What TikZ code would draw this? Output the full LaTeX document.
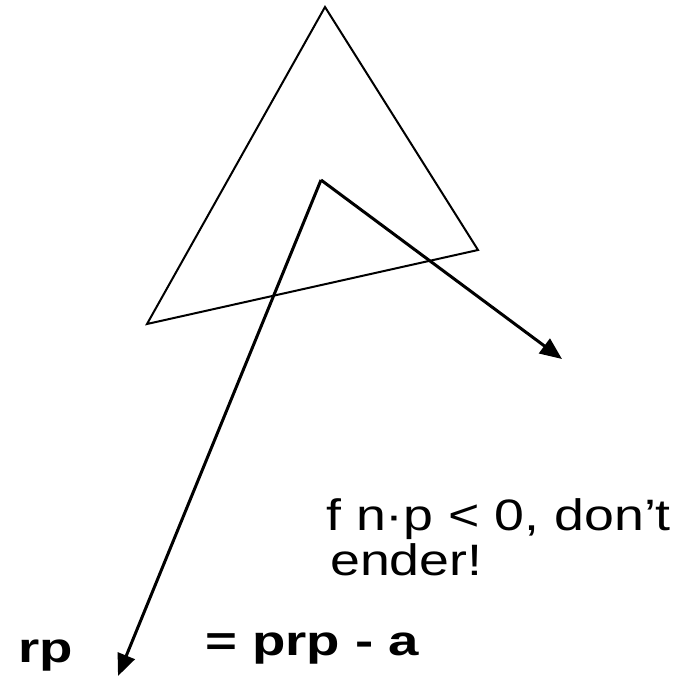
\documentclass[tikz,border=0pt]{standalone}
\usepackage{fontspec}
\setmainfont{Liberation Sans}
\usetikzlibrary{arrows.meta}
\tikzset{
  facet/.style={draw, line width=2pt, line join=miter},
  ray/.style={draw, line width=3pt, -{Triangle[length=22pt,width=18pt]}},
  note/.style={inner sep=0pt, anchor=base west, xscale=1.22, transform shape,
    font=\fontsize{44}{45}\selectfont},
  formula/.style={inner sep=0pt, anchor=base west, xscale=1.30, transform shape,
    font=\fontsize{42}{44}\selectfont\bfseries}
}
\begin{document}
\begin{tikzpicture}[x=1pt,y=-1pt]
\useasboundingbox (0,0) rectangle (684,679);
\path coordinate (apex) at (325,7)
coordinate (right) at (478,250)
coordinate (left) at (147,324)
coordinate (origin) at (321,180)
coordinate (normal) at (562,359)
coordinate (eye) at (118,676)
;
\draw[facet] (apex) -- (right) -- (left) -- cycle;
\draw[ray] (origin) -- (normal);
\draw[ray] (origin) -- (eye);
\path node[note] (warn) at (326,530) {f n·p < 0, don’t}
node[note] (warn2) at (330,575) {ender!}
node[formula] (rp) at (18,662) {rp}
node[formula] (eq) at (205,655) {= prp - a}
;
\end{tikzpicture}
\end{document}
